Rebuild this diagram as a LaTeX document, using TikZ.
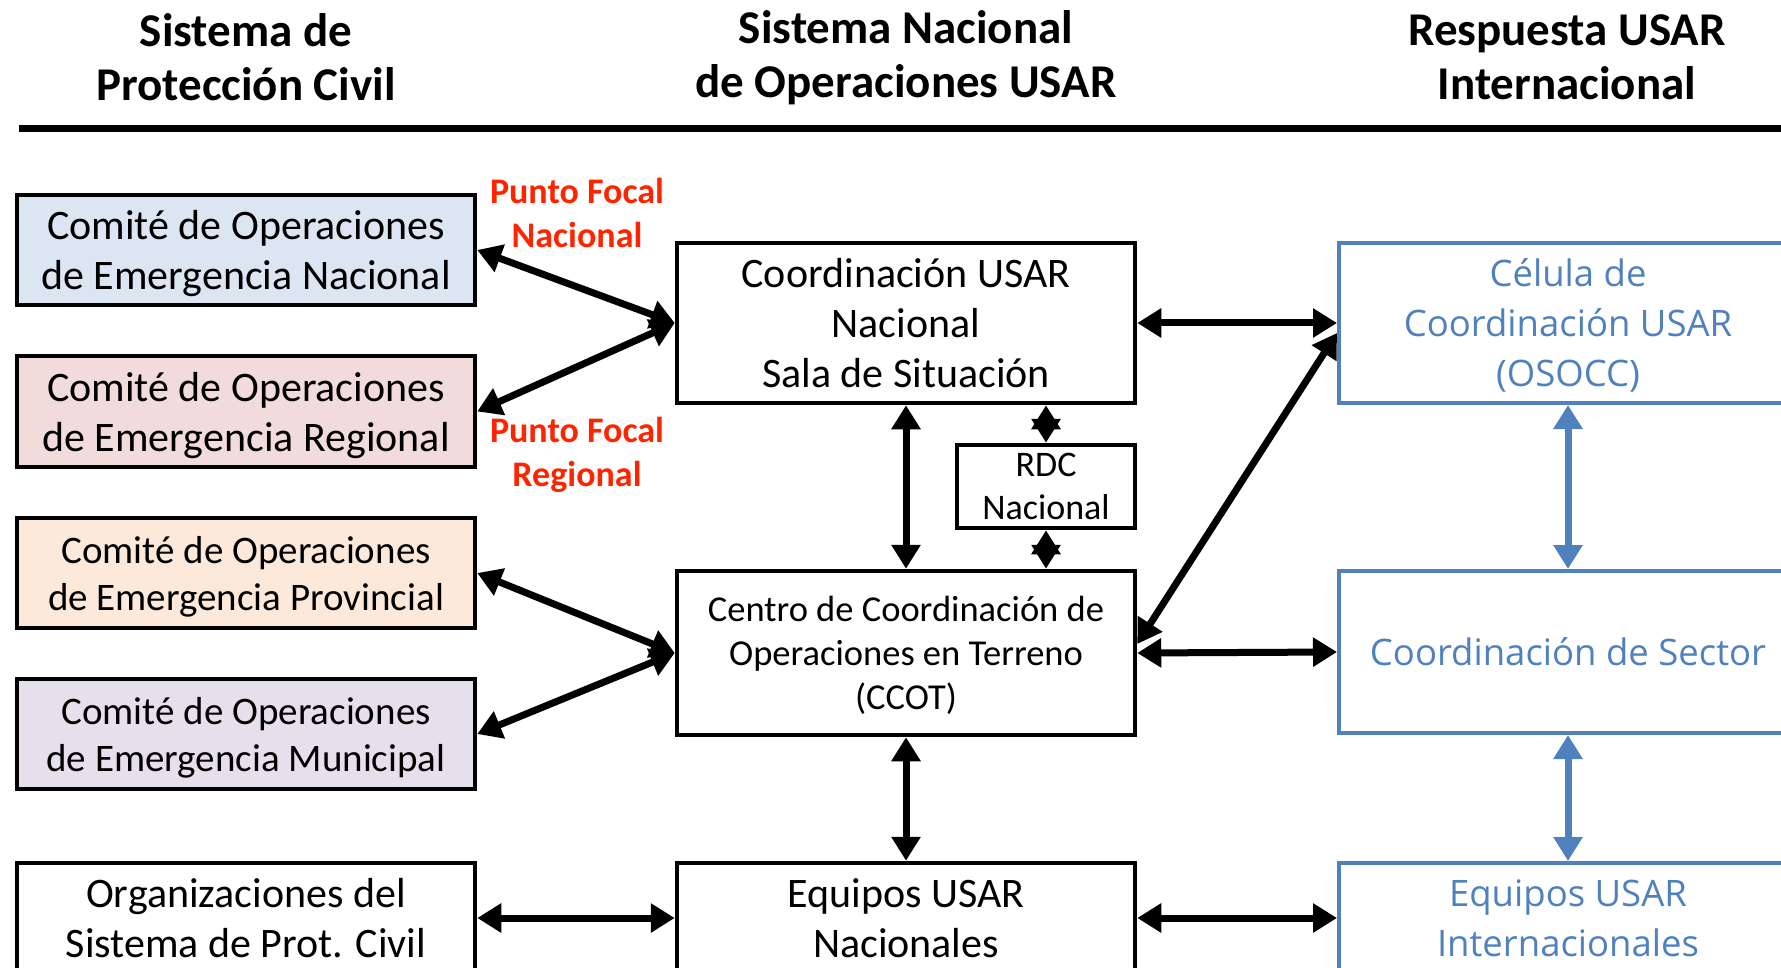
\documentclass[tikz,border=0pt]{standalone}
\usepackage{fontspec}
\setmainfont{Carlito}
\newfontfamily\azulfont{Open Sans}
\usetikzlibrary{arrows.meta}
\definecolor{comnac}{HTML}{DCE6F2}
\definecolor{comreg}{HTML}{F2DCDB}
\definecolor{comprov}{HTML}{FDE9D9}
\definecolor{commun}{HTML}{E5E0EC}
\definecolor{usarazul}{HTML}{4F81BD}
\definecolor{focalrojo}{HTML}{FF2400}
\begin{document}
\begin{tikzpicture}[x=1pt,y=-1pt]
  \tikzstyle{caja}=[draw,line width=4.5pt,minimum width=458pt,minimum height=110pt,align=center,inner sep=0pt,text depth=0pt,font=\fontsize{42}{50}\selectfont]
  \tikzstyle{cajaazul}=[caja,draw=usarazul,text=usarazul,line width=4pt,font=\azulfont\fontsize{36.5}{50}\selectfont]
  \tikzstyle{titulo}=[align=center,inner sep=0pt,font=\bfseries\fontsize{47}{54}\selectfont]
  \tikzstyle{focal}=[align=center,inner sep=0pt,text=focalrojo,font=\bfseries\fontsize{36}{44}\selectfont]
  \tikzstyle{flecha}=[line width=7pt,{Triangle[length=24pt,width=28pt]}-{Triangle[length=24pt,width=28pt]}]
  \tikzstyle{flechaazul}=[flecha,draw=usarazul]
  \useasboundingbox (0,0) rectangle (1781,968);
  %% titulos
  \node[titulo] (tpc) at (246,57.5) {Sistema de\\Protección Civil};
  \node[titulo] (tsn) at (906,57.5) {Sistema Nacional\\de Operaciones USAR};
  \node[titulo] (tri) at (1567,57.5) {Respuesta USAR\\Internacional};
  \draw[line width=7pt] (19,129) -- (1781,129);
  %% proteccion civil
  \node[caja,fill=comnac] (cenac) at (246,250) {Comité de Operaciones\\de Emergencia Nacional};
  \node[caja,fill=comreg,minimum height=111pt] (cereg) at (246,411.5) {Comité de Operaciones\\de Emergencia Regional};
  \node[caja,fill=comprov,font=\fontsize{39}{47}\selectfont] (ceprov) at (246,573) {Comité de Operaciones\\de Emergencia Provincial};
  \node[caja,fill=commun,font=\fontsize{39}{47}\selectfont] (cemun) at (246,734) {Comité de Operaciones\\de Emergencia Municipal};
  \node[caja] (orgs) at (246,918) {Organizaciones del\\Sistema de Prot. Civil};
  %% sistema nacional
  \node[caja,minimum height=160pt] (coord) at (906,323) {Coordinación USAR\\Nacional\\Sala de Situación};
  \node[caja,minimum width=178pt,minimum height=83pt,font=\fontsize{36}{43}\selectfont] (rdc) at (1046,486.5) {RDC\\Nacional};
  \node[caja,minimum height=164pt,font=\fontsize{36.5}{44}\selectfont] (ccot) at (906,653) {Centro de Coordinación de\\Operaciones en Terreno\\(CCOT)};
  \node[caja] (eqnac) at (906,918) {Equipos USAR\\Nacionales};
  %% respuesta internacional
  \node[cajaazul,minimum height=160pt] (celula) at (1568,323) {Célula de\\Coordinación USAR\\(OSOCC)};
  \node[cajaazul,minimum height=162pt] (sector) at (1568,652) {Coordinación de Sector};
  \node[cajaazul] (eqint) at (1568,918) {Equipos USAR\\Internacionales};
  %% puntos focales
  \node[focal] (pfnac) at (577,213) {Punto Focal\\Nacional};
  \node[focal] (pfreg) at (577,455) {Punto Focal\\Regional};
  %% flechas
  \draw[flecha] (cenac.east) -- (coord.west);
  \draw[flecha] (cereg.east) -- (coord.west);
  \draw[flecha] (ceprov.east) -- (ccot.west);
  \draw[flecha] (cemun.east) -- (ccot.west);
  \draw[flecha] (orgs.east) -- (eqnac.west);
  \draw[flecha] (coord.east) -- (celula.west);
  \draw[flecha] (ccot.east) -- (sector.west);
  \draw[flecha] ([yshift=9pt]ccot.east) -- ([yshift=-10pt]celula.west);
  \draw[flecha] (eqnac.east) -- (eqint.west);
  \draw[flecha] (coord.south) -- (ccot.north);
  \draw[flecha] (rdc.north |- coord.south) -- (rdc.north);
  \draw[flecha] (rdc.south) -- (rdc.south |- ccot.north);
  \draw[flecha] (ccot.south) -- (eqnac.north);
  \draw[flechaazul] (celula.south) -- (sector.north);
  \draw[flechaazul] (sector.south) -- (eqint.north);
\end{tikzpicture}
\end{document}
